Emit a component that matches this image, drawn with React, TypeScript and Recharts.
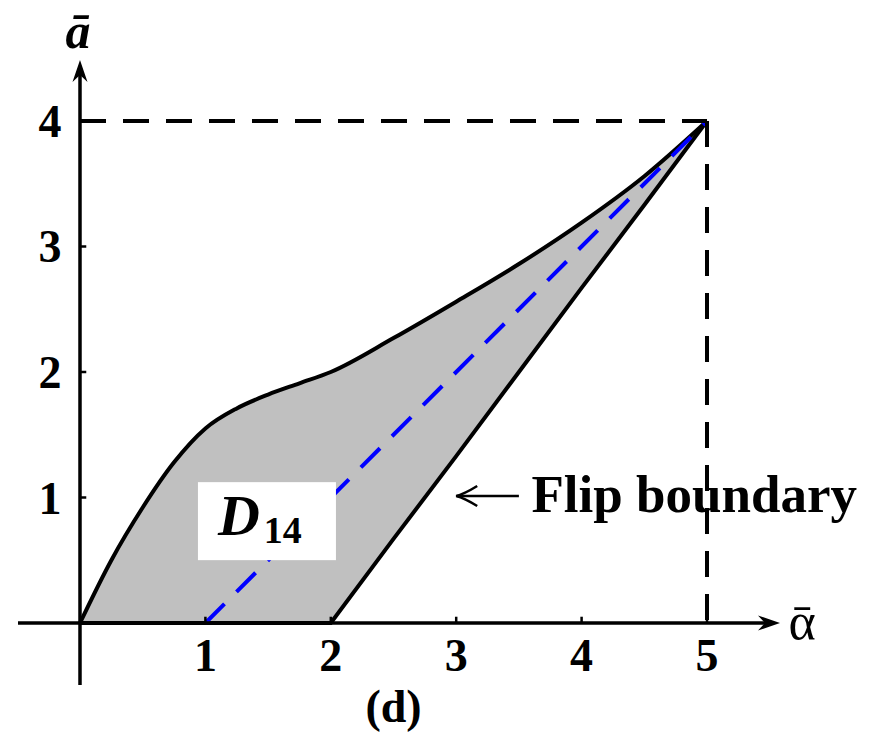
import React from "react";
import { Area, ComposedChart, Line, ReferenceDot, ReferenceLine, XAxis, YAxis } from "recharts";

// upper edge of D14 and the flip boundary
const alphaBar = [0, 0.25, 0.5, 0.75, 1, 1.25, 1.5, 1.75, 2, 2.5, 3, 3.5, 4, 4.5, 5];
const upperBound = [0, 0.5, 0.92, 1.28, 1.55, 1.71, 1.82, 1.91, 2.0, 2.27, 2.56, 2.86, 3.19, 3.56, 4];
const flipBound = [0, 0, 0, 0, 0, 0, 0, 0, 0, 0.67, 1.33, 2, 2.67, 3.33, 4];

// blue dashed diagonal
const diagX = [1, 5];
const diagY = [0, 4];

const xTicks = [1, 2, 3, 4, 5];
const yTicks = [1, 2, 3, 4];

const X_MIN = -0.4944;
const X_MAX = 5.5821;
const Y_MIN = -0.494;
const Y_MAX = 4.486;

const SERIF = "'Liberation Serif', 'DejaVu Serif', serif";

const rows = alphaBar.map((x, i) => ({
  x,
  upper: upperBound[i],
  lower: flipBound[i],
  band: [flipBound[i], upperBound[i]],
}));
const diagRows = diagX.map((x, i) => ({ x, y: diagY[i] }));

const axisShape = (props: any) => {
  const { x1, y1, x2, y2 } = props;
  const dx = x2 - x1;
  const dy = y2 - y1;
  const len = Math.sqrt(dx * dx + dy * dy) || 1;
  const ux = dx / len;
  const uy = dy / len;
  const px = -uy;
  const py = ux;
  const back = 22;
  const half = 7.5;
  const notch = 15;
  const head =
    `M${x2},${y2} ` +
    `L${x2 - ux * back + px * half},${y2 - uy * back + py * half} ` +
    `L${x2 - ux * notch},${y2 - uy * notch} ` +
    `L${x2 - ux * back - px * half},${y2 - uy * back - py * half} Z`;
  return (
    <g>
      <line x1={x1} y1={y1} x2={x2 - ux * 12} y2={y2 - uy * 12} stroke="#000" strokeWidth={3.5} />
      <path d={head} fill="#000" />
    </g>
  );
};

const leftArrowShape = (props: any) => {
  const { x1, y1, x2 } = props;
  const y = y1;
  return (
    <g fill="none" stroke="#000" strokeWidth={2.5}>
      <line x1={x1} y1={y} x2={x2 + 1} y2={y} />
      <path d={`M${x2 + 21},${y - 10} Q${x2 + 8},${y - 2} ${x2},${y} Q${x2 + 8},${y + 2} ${x2 + 21},${y + 10}`} />
    </g>
  );
};

const textAt = (content: React.ReactNode, dx: number, dy: number, style: any) => (props: any) => {
  const vb = props.viewBox || {};
  const cx = (vb.x ?? 0) + (vb.width ?? 0) / 2;
  const cy = (vb.y ?? 0) + (vb.height ?? 0) / 2;
  return (
    <text x={cx + dx} y={cy + dy} fill="#000" fontFamily={SERIF} {...style}>
      {content}
    </text>
  );
};

// white box with D14 inside, anchored at the baseline start of "D"
const regionLabel = (props: any) => {
  const vb = props.viewBox || {};
  const cx = (vb.x ?? 0) + (vb.width ?? 0) / 2;
  const cy = (vb.y ?? 0) + (vb.height ?? 0) / 2;
  return (
    <g>
      <rect x={cx - 20} y={cy - 53} width={138} height={78} fill="#fff" />
      <text x={cx} y={cy} fill="#000" fontFamily={SERIF} fontWeight={700}>
        <tspan fontStyle="italic" fontSize={58}>D</tspan>
        <tspan fontSize={38} dx={4} dy={8}>14</tspan>
      </text>
    </g>
  );
};

const note = (key: string, x: number, y: number, label: any) => (
  <ReferenceDot key={key} x={x} y={y} r={0} fill="none" stroke="none" ifOverflow="visible" label={label} />
);

export default function App() {
  return (
    <div style={{ position: "absolute", left: 0, top: 0, width: 882, height: 738, background: "#fff" }}>
      <ComposedChart width={882} height={738} data={rows} margin={{ top: 60, right: 102, bottom: 53, left: 18 }}>
        <XAxis type="number" dataKey="x" domain={[X_MIN, X_MAX]} allowDataOverflow hide />
        <YAxis type="number" domain={[Y_MIN, Y_MAX]} allowDataOverflow hide />

        <Area dataKey="band" type="linear" fill="#c0c0c0" fillOpacity={1} stroke="none" isAnimationActive={false} />
        <Line dataKey="lower" type="linear" stroke="#000" strokeWidth={4} dot={false} isAnimationActive={false} />
        <Line dataKey="upper" type="monotone" stroke="#000" strokeWidth={4} dot={false} isAnimationActive={false} />
        <Line
          data={diagRows}
          dataKey="y"
          type="linear"
          stroke="#0000ff"
          strokeWidth={4}
          strokeDasharray="27 17"
          dot={false}
          isAnimationActive={false}
        />

        <ReferenceLine segment={[{ x: 0, y: 4 }, { x: 5, y: 4 }]} stroke="#000" strokeWidth={4} strokeDasharray="26 17" ifOverflow="visible" />
        <ReferenceLine segment={[{ x: 5, y: 4 }, { x: 5, y: 0 }]} stroke="#000" strokeWidth={4} strokeDasharray="26 17" ifOverflow="visible" />

        {/* axes with arrow heads */}
        <ReferenceLine segment={[{ x: X_MIN, y: 0 }, { x: X_MAX, y: 0 }]} shape={axisShape} ifOverflow="visible" />
        <ReferenceLine segment={[{ x: 0, y: Y_MIN }, { x: 0, y: Y_MAX }]} shape={axisShape} ifOverflow="visible" />

        {xTicks.map((t) => (
          <ReferenceLine key={"xt" + t} segment={[{ x: t, y: 0 }, { x: t, y: 0.05 }]} stroke="#000" strokeWidth={2.5} ifOverflow="visible" />
        ))}
        {yTicks.map((t) => (
          <ReferenceLine key={"yt" + t} segment={[{ x: 0, y: t }, { x: 0.05, y: t }]} stroke="#000" strokeWidth={2.5} ifOverflow="visible" />
        ))}

        <ReferenceLine segment={[{ x: 3.5, y: 1.012 }, { x: 3.0, y: 1.012 }]} shape={leftArrowShape} ifOverflow="visible" />

        {xTicks.map((t) =>
          note("xl" + t, t, 0, textAt(String(t), 0, 48, { fontSize: 46, fontWeight: 700, textAnchor: "middle" }))
        )}
        {yTicks.map((t) =>
          note("yl" + t, 0, t, textAt(String(t), -30, 16, { fontSize: 46, fontWeight: 700, textAnchor: "middle" }))
        )}

        {note("D14", 1.1, 0.7, regionLabel)}
        {note("d", 2.5, 0, textAt("(d)", 0, 99, { fontSize: 46, fontWeight: 700, textAnchor: "middle" }))}
        {note("flip", 3.6, 1.0, textAt("Flip boundary", 0, 14, { fontSize: 53, fontWeight: 700, textAnchor: "start" }))}
        {note("abar", 0, Y_MAX, textAt("ā", -2, -12, { fontSize: 50, fontWeight: 700, fontStyle: "italic", textAnchor: "middle" }))}
        {note("alphabar", X_MAX, 0, textAt("ᾱ", 22, 16, { fontSize: 52, textAnchor: "middle" }))}
      </ComposedChart>
    </div>
  );
}
